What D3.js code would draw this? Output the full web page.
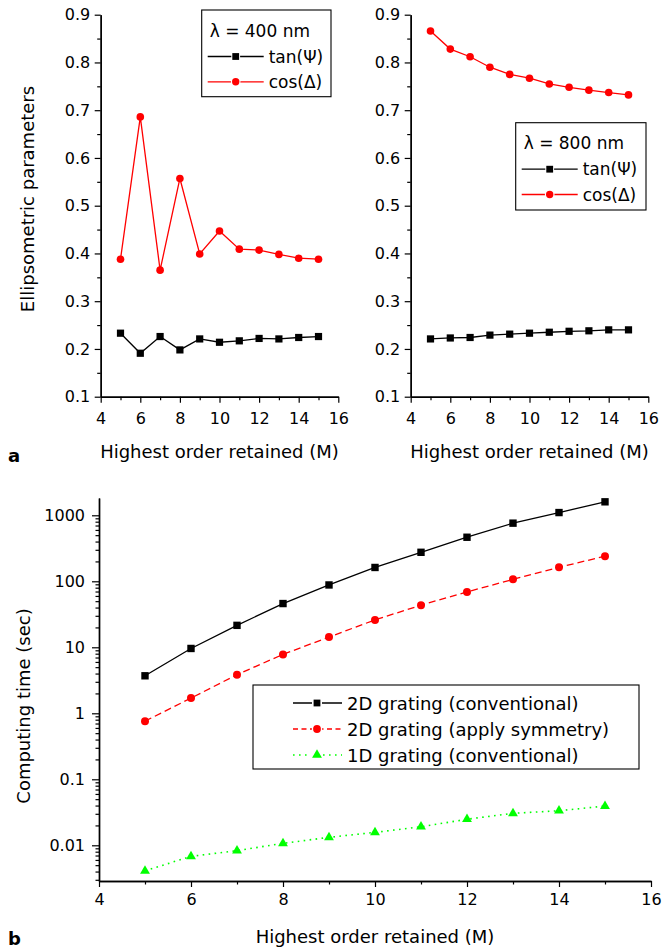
<!DOCTYPE html>
<html>
<head>
<meta charset="utf-8">
<script src="https://cdn.jsdelivr.net/npm/d3@7"></script>
<style>
  body { margin: 0; background: #fff; }
  svg { display: block; }
  text { font-family: "DejaVu Sans", sans-serif; fill: #000; }
</style>
</head>
<body>
<svg id="chart" width="672" height="951"></svg>
<script>
// highest retained order M (x values of every series)
const orders = [5, 6, 7, 8, 9, 10, 11, 12, 13, 14, 15];

// panel a, lambda = 400 nm
const tanPsi400 = [0.233, 0.191, 0.226, 0.198, 0.221, 0.214, 0.217, 0.222, 0.221, 0.224, 0.226];
const cosDelta400 = [0.388, 0.686, 0.365, 0.557, 0.399, 0.447, 0.409, 0.407, 0.398, 0.390, 0.388];

// panel a, lambda = 800 nm
const tanPsi800 = [0.221, 0.223, 0.224, 0.229, 0.231, 0.233, 0.235, 0.237, 0.238, 0.240, 0.240];
const cosDelta800 = [0.866, 0.828, 0.812, 0.790, 0.775, 0.767, 0.755, 0.748, 0.742, 0.737, 0.732];

// panel b, computing time in seconds
const time2dConv = [3.7, 9.6, 21.5, 46, 88, 162, 275, 465, 760, 1100, 1600];
const time2dSym = [0.76, 1.7, 3.85, 7.8, 14.3, 26, 43.5, 69, 107, 163, 240];
const time1dConv = [0.0041, 0.0068, 0.0083, 0.0107, 0.0132, 0.0157, 0.0191, 0.0248, 0.0305, 0.0334, 0.0393];

// tick labels
const xTicks = [4, 6, 8, 10, 12, 14, 16];
const xMinor = [5, 7, 9, 11, 13, 15];
const yTicksA = [0.1, 0.2, 0.3, 0.4, 0.5, 0.6, 0.7, 0.8, 0.9];
const yMinorA = [0.15, 0.25, 0.35, 0.45, 0.55, 0.65, 0.75, 0.85];
const yTicksB = [0.01, 0.1, 1, 10, 100, 1000];
const yLabelsB = ["0.01", "0.1", "1", "10", "100", "1000"];

const RED = "#ff0000", GREEN = "#00ff00";

const svg = d3.select("#chart");

function styleAxis(g) {
    g.selectAll("path.domain").attr("stroke", "#000").attr("stroke-width", 1.4);
    g.selectAll(".tick line").attr("stroke", "#000").attr("stroke-width", 1.2);
    g.selectAll(".tick text").attr("font-size", 16).attr("font-family", '"DejaVu Sans", sans-serif').attr("fill", "#000");
}

function drawTop(xr, tanData, cosData, lam, leg) {
    const x = d3.scaleLinear().domain([4, 16]).range(xr);
    const y = d3.scaleLinear().domain([0.1, 0.9]).range([396.7, 14.7]);

    // minor ticks first, then major axes on top
    svg.append("g").attr("transform", `translate(0,${y(0.1)})`)
        .call(d3.axisBottom(x).tickValues(xMinor).tickSize(3.5).tickFormat("").tickSizeOuter(0))
        .call(styleAxis);
    svg.append("g").attr("transform", `translate(${x(4)},0)`)
        .call(d3.axisLeft(y).tickValues(yMinorA).tickSize(3.5).tickFormat("").tickSizeOuter(0))
        .call(styleAxis);
    svg.append("g").attr("transform", `translate(0,${y(0.1)})`)
        .call(d3.axisBottom(x).tickValues(xTicks).tickSize(6).tickPadding(10).tickSizeOuter(0))
        .call(styleAxis);
    svg.append("g").attr("transform", `translate(${x(4)},0)`)
        .call(d3.axisLeft(y).tickValues(yTicksA).tickSize(6).tickPadding(4.5).tickSizeOuter(0).tickFormat(d3.format(".1f")))
        .call(styleAxis);

    svg.append("text")
        .attr("x", (xr[0] + xr[1]) / 2).attr("y", 451.7)
        .attr("text-anchor", "middle").attr("dominant-baseline", "central")
        .attr("font-size", 18)
        .text("Highest order retained (M)");

    const line = d3.line().x((d, i) => x(orders[i])).y(d => y(d));
    svg.append("path").datum(cosData).attr("d", line)
        .attr("fill", "none").attr("stroke", RED).attr("stroke-width", 1.3);
    svg.append("path").datum(tanData).attr("d", line)
        .attr("fill", "none").attr("stroke", "#000").attr("stroke-width", 1.3);

    svg.append("g").selectAll("circle").data(cosData).join("circle")
        .attr("cx", (d, i) => x(orders[i])).attr("cy", d => y(d)).attr("r", 3.8)
        .attr("fill", RED);
    svg.append("g").selectAll("rect").data(tanData).join("rect")
        .attr("x", (d, i) => x(orders[i]) - 3.6).attr("y", d => y(d) - 3.6)
        .attr("width", 7.2).attr("height", 7.2).attr("fill", "#000");

    // legend box
    const lg = svg.append("g");
    lg.append("rect").attr("x", leg.x).attr("y", leg.y).attr("width", leg.w).attr("height", leg.h)
        .attr("fill", "#fff").attr("stroke", "#000").attr("stroke-width", 1.1);
    lg.append("text").attr("x", leg.x + 8).attr("y", leg.y + 20.5)
        .attr("dominant-baseline", "central").attr("font-size", 17).text(lam);
    const rows = [
        { label: "tan(\u03a8)", color: "#000", shape: "square" },
        { label: "cos(\u0394)", color: RED, shape: "circle" }
    ];
    rows.forEach((r, i) => {
        const cy = leg.y + 46.5 + i * 25.3;
        const lx = leg.x + 6;
        lg.append("line").attr("x1", lx).attr("x2", lx + 56).attr("y1", cy).attr("y2", cy)
            .attr("stroke", r.color).attr("stroke-width", 1.3);
        if (r.shape === "square") {
            lg.append("rect").attr("x", lx + 28 - 3.4).attr("y", cy - 3.4).attr("width", 6.8).attr("height", 6.8)
                .attr("fill", "#fff").attr("stroke", "#fff").attr("stroke-width", 2);
            lg.append("rect").attr("x", lx + 28 - 3.4).attr("y", cy - 3.4).attr("width", 6.8).attr("height", 6.8)
                .attr("fill", r.color);
        } else {
            lg.append("circle").attr("cx", lx + 28).attr("cy", cy).attr("r", 4.8).attr("fill", "#fff");
            lg.append("circle").attr("cx", lx + 28).attr("cy", cy).attr("r", 3.7).attr("fill", r.color);
        }
        lg.append("text").attr("x", lx + 61).attr("y", cy)
            .attr("dominant-baseline", "central").attr("font-size", 17).text(r.label);
    });
}

drawTop([100.7, 338.3], tanPsi400, cosDelta400, "\u03bb = 400 nm", { x: 201.7, y: 10, w: 129.3, h: 86.7 });
drawTop([410.7, 648.3], tanPsi800, cosDelta800, "\u03bb = 800 nm", { x: 515.7, y: 122.7, w: 130.3, h: 87.3 });

svg.append("text")
    .attr("transform", "translate(27,199) rotate(-90)")
    .attr("text-anchor", "middle").attr("dominant-baseline", "central")
    .attr("font-size", 18)
    .text("Ellipsometric parameters");

svg.append("text").attr("x", 8).attr("y", 462).attr("font-size", 18).attr("font-weight", "bold").text("a");

// ---- panel b ----
const xb = d3.scaleLinear().domain([4, 16]).range([99, 651]);
const yb = d3.scaleLog().domain([Math.pow(10, -2.541), Math.pow(10, 3.262)]).range([881, 498]);

// minor log ticks 2..9 within each decade
const yMinorB = [];
[0.001, 0.01, 0.1, 1, 10, 100, 1000].forEach(dec => {
    for (let k = 2; k <= 9; k++) {
        const v = dec * k;
        if (v >= yb.domain()[0] && v <= yb.domain()[1]) yMinorB.push(v);
    }
});

svg.append("g").attr("transform", `translate(0,881)`)
    .call(d3.axisBottom(xb).tickValues(xMinor).tickSize(3.5).tickFormat("").tickSizeOuter(0))
    .call(styleAxis);
svg.append("g").attr("transform", `translate(99,0)`)
    .call(d3.axisLeft(yb).tickValues(yMinorB).tickSize(3.5).tickFormat("").tickSizeOuter(0))
    .call(styleAxis);
svg.append("g").attr("transform", `translate(0,881)`)
    .call(d3.axisBottom(xb).tickValues(xTicks).tickSize(6).tickPadding(7).tickSizeOuter(0))
    .call(styleAxis);
svg.append("g").attr("transform", `translate(99,0)`)
    .call(d3.axisLeft(yb).tickValues(yTicksB).tickSize(7).tickPadding(7).tickSizeOuter(0)
        .tickFormat((d, i) => yLabelsB[i]))
    .call(styleAxis);

svg.append("text")
    .attr("x", 375).attr("y", 936)
    .attr("text-anchor", "middle").attr("dominant-baseline", "central")
    .attr("font-size", 18)
    .text("Highest order retained (M)");

svg.append("text")
    .attr("transform", "translate(23,706) rotate(-90)")
    .attr("text-anchor", "middle").attr("dominant-baseline", "central")
    .attr("font-size", 18)
    .text("Computing time (sec)");

svg.append("text").attr("x", 8).attr("y", 945).attr("font-size", 18).attr("font-weight", "bold").text("b");

const lineB = d3.line().x((d, i) => xb(orders[i])).y(d => yb(d));
svg.append("path").datum(time2dConv).attr("d", lineB)
    .attr("fill", "none").attr("stroke", "#000").attr("stroke-width", 1.3);
svg.append("path").datum(time2dSym).attr("d", lineB)
    .attr("fill", "none").attr("stroke", RED).attr("stroke-width", 1.3).attr("stroke-dasharray", "7,4");
svg.append("path").datum(time1dConv).attr("d", lineB)
    .attr("fill", "none").attr("stroke", GREEN).attr("stroke-width", 1.6).attr("stroke-dasharray", "1.6,4.4");

const tri = d3.symbol().type(d3.symbolTriangle).size(42);

svg.append("g").selectAll("rect").data(time2dConv).join("rect")
    .attr("x", (d, i) => xb(orders[i]) - 3.7).attr("y", d => yb(d) - 3.7)
    .attr("width", 7.4).attr("height", 7.4).attr("fill", "#000");
svg.append("g").selectAll("circle").data(time2dSym).join("circle")
    .attr("cx", (d, i) => xb(orders[i])).attr("cy", d => yb(d)).attr("r", 4)
    .attr("fill", RED);
svg.append("g").selectAll("path").data(time1dConv).join("path")
    .attr("d", tri)
    .attr("transform", (d, i) => `translate(${xb(orders[i])},${yb(d)})`)
    .attr("fill", GREEN);

// legend for panel b
const legB = svg.append("g");
legB.append("rect").attr("x", 253).attr("y", 685).attr("width", 386).attr("height", 84)
    .attr("fill", "#fff").attr("stroke", "#000").attr("stroke-width", 1.1);
const legRows = [
    { label: "2D grating (conventional)", color: "#000", dash: null, shape: "square" },
    { label: "2D grating (apply symmetry)", color: RED, dash: "5,3.5", shape: "circle" },
    { label: "1D grating (conventional)", color: GREEN, dash: "1.6,4.4", shape: "triangle" }
];
legRows.forEach((r, i) => {
    const cy = 703 + i * 26;
    legB.append("line").attr("x1", 293).attr("x2", 342).attr("y1", cy).attr("y2", cy)
        .attr("stroke", r.color).attr("stroke-width", r.shape === "triangle" ? 1.6 : 1.3)
        .attr("stroke-dasharray", r.dash);
    if (r.shape === "square") {
        legB.append("rect").attr("x", 317 - 5).attr("y", cy - 5).attr("width", 10).attr("height", 10).attr("fill", "#fff");
        legB.append("rect").attr("x", 317 - 3.4).attr("y", cy - 3.4).attr("width", 6.8).attr("height", 6.8).attr("fill", r.color);
    } else if (r.shape === "circle") {
        legB.append("circle").attr("cx", 317).attr("cy", cy).attr("r", 5.2).attr("fill", "#fff");
        legB.append("circle").attr("cx", 317).attr("cy", cy).attr("r", 3.9).attr("fill", r.color);
    } else {
        legB.append("rect").attr("x", 311).attr("y", cy - 6).attr("width", 12).attr("height", 12).attr("fill", "#fff");
        legB.append("path").attr("d", tri).attr("transform", `translate(317,${cy})`).attr("fill", r.color);
    }
    legB.append("text").attr("x", 347).attr("y", cy)
        .attr("dominant-baseline", "central").attr("font-size", 18).text(r.label);
});
</script>
</body>
</html>
